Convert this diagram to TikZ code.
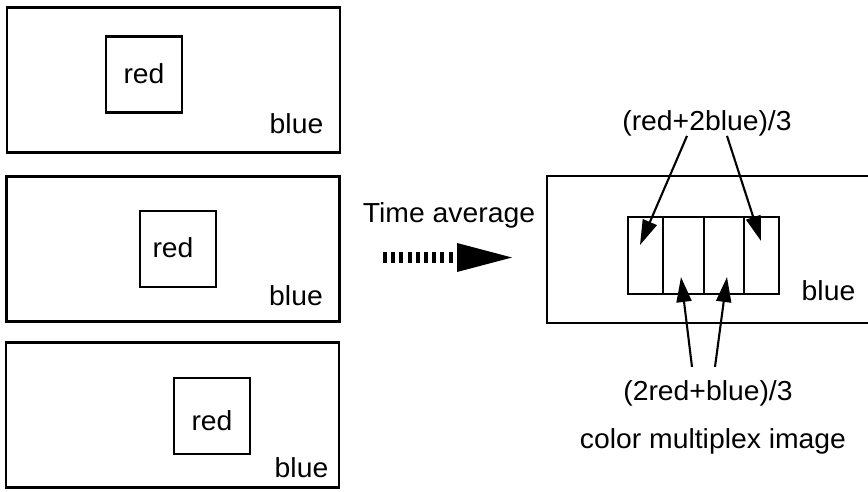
\documentclass[tikz,border=0pt]{standalone}
\usepackage{fontspec}
\setmainfont{Liberation Sans}[FakeStretch=1.03]
\usetikzlibrary{arrows.meta,calc}
\tikzset{
  frame/.style={draw, line width=2.1pt, minimum width=333pt, minimum height=145pt, inner sep=0pt},
  sq/.style={draw, line width=2.1pt, minimum width=76pt, minimum height=76pt, inner sep=0pt},
  cell/.style={draw, line width=2.1pt, minimum height=77pt, inner sep=0pt},
  lbl/.style={inner sep=0pt, anchor=base, font=\fontsize{27.5}{30}\selectfont},
  ptr/.style={line width=2.1pt, -{Triangle[length=25pt,width=15pt]}}
}
\begin{document}
\begin{tikzpicture}[x=1pt,y=-1pt]
\useasboundingbox (0,0) rectangle (868,491);
\clip (0,0) rectangle (868,491);
\fill[white] (0,0) rectangle (868,491);
% left frames
\node[frame] (f1) at (173.5,80) {};
\node[frame] (f2) at (173,249) {};
\node[frame] (f3) at (172.5,415) {};
\node[sq] (s1) at (144,74.5) {};
\node[sq] (s2) at (178,249) {};
\node[sq] (s3) at (212,416) {};
\node[lbl] (r1) at (144,83) {red};
\node[lbl] (r2) at (173,257) {red};
\node[lbl] (r3) at (212,430) {red};
\node[lbl] (b1) at (296.5,133) {blue};
\node[lbl] (b2) at (296,305) {blue};
\node[lbl] (b3) at (301.5,477) {blue};
% time average arrow
\node[lbl] (ta) at (449,222) {Time average};
\coordinate (da) at (383,257.5);
\coordinate (db) at (457,257.5);
\coordinate (dtip) at (512,257.5);
\draw[line width=11pt, dash pattern=on 4pt off 4.2pt] (da) -- (db);
\fill (457,243) -- (dtip) -- (457,272) -- cycle;
% right frame
\node[frame, minimum height=147pt] (fr) at (713.5,249.5) {};
\node[cell, minimum width=35pt] (c1) at (645.5,255.5) {};
\node[cell, minimum width=41pt] (c2) at (683.5,255.5) {};
\node[cell, minimum width=40pt] (c3) at (724,255.5) {};
\node[cell, minimum width=35pt] (c4) at (761.5,255.5) {};
\node[lbl] (br) at (828.5,300) {blue};
\node[lbl] (top) at (707,130) {(red+2blue)/3};
\node[lbl] (bot) at (708,400) {(2red+blue)/3};
\node[lbl] (cap) at (713,448) {color multiplex image};
\coordinate (t1) at (640,245);
\coordinate (t2) at (761,241);
\coordinate (t3) at (681,277);
\coordinate (t4) at (727,277);
\draw[ptr] ($(top.south)+(-20,0)$) -- (t1);
\draw[ptr] ($(top.south)+(20,0)$) -- (t2);
\draw[ptr] ($(bot.north)+(-16,-13)$) -- (t3);
\draw[ptr] ($(bot.north)+(7,-13)$) -- (t4);
\end{tikzpicture}
\end{document}
